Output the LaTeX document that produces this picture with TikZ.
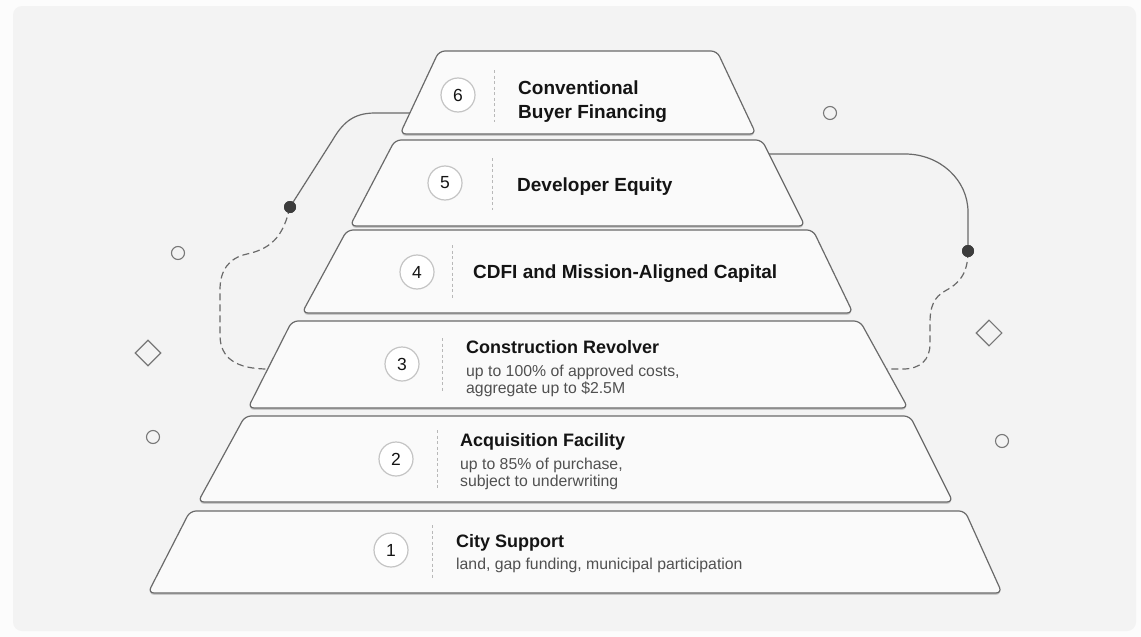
\documentclass[tikz,border=0pt]{standalone}
\usepackage{fontspec}
\setmainfont{Liberation Sans}
\usetikzlibrary{shapes.geometric}

\definecolor{outerbg}{HTML}{FCFCFC}
\definecolor{panelbg}{HTML}{F3F3F3}
\definecolor{layerfill}{HTML}{FAFAFA}
\definecolor{edge}{HTML}{6A6A6A}
\definecolor{shadowc}{HTML}{C8C8C8}
\definecolor{badge}{HTML}{C4C4C4}
\definecolor{sep}{HTML}{B8B8B8}
\definecolor{titlec}{HTML}{141414}
\definecolor{subc}{HTML}{505050}
\definecolor{dotc}{HTML}{3C3C3C}
\definecolor{ornc}{HTML}{777777}

\tikzset{
  layerbox/.style={draw=edge, line width=1.2pt, fill=layerfill, rounded corners=6pt, line join=round},
  layershadow/.style={fill=shadowc, rounded corners=6pt},
  badgecirc/.style={circle, draw=badge, line width=1.2pt, fill=white, minimum size=34pt,
    inner sep=0pt, font=\fontsize{17.5}{17.5}\selectfont, text=titlec},
  sepline/.style={draw=sep, line width=0.9pt, dash pattern=on 3pt off 2.5pt},
  bigtitle/.style={anchor=base west, inner sep=0pt, font=\fontsize{19}{19}\selectfont\bfseries, text=titlec},
  midtitle/.style={anchor=base west, inner sep=0pt, font=\fontsize{18}{18}\selectfont\bfseries, text=titlec},
  subtext/.style={anchor=base west, inner sep=0pt, font=\fontsize{15.8}{15.8}\selectfont, text=subc},
  link/.style={draw=edge, line width=1.2pt},
  dashedlink/.style={link, dash pattern=on 7pt off 4pt},
  joint/.style={circle, fill=dotc, minimum size=12pt, inner sep=0pt},
  ring/.style={circle, draw=ornc, line width=1.1pt, minimum size=13pt, inner sep=0pt},
  gem/.style={diamond, draw=ornc, line width=1.1pt, minimum size=26pt, inner sep=0pt},
}

% one tier: top-left x, top-right x, bottom-right x, bottom-left x, top y, bottom y
\newcommand{\stagebox}[6]{%
  \fill[layershadow] (#1,#5+1.8) -- (#2,#5+1.8) -- (#3,#6+1.8) -- (#4,#6+1.8) -- cycle;
  \draw[layerbox] (#1,#5) -- (#2,#5) -- (#3,#6) -- (#4,#6) -- cycle;}

\begin{document}
\begin{tikzpicture}[x=1pt, y=-1pt]
  \useasboundingbox (0,0) rectangle (1141,637);
  \fill[outerbg] (0,0) rectangle (1141,637);
  \fill[panelbg, rounded corners=9pt] (13,6) rectangle (1136,631);

  % scattered ornaments
  \node[ring] (r1) at (830,113) {};
  \node[ring] (r2) at (178,253) {};
  \node[ring] (r3) at (153,437) {};
  \node[ring] (r4) at (1002,441) {};
  \node[gem] (g1) at (148,353) {};
  \node[gem] (g2) at (989,333) {};

  % connector end points on the tier edges
  \coordinate (l6w) at (410,113);
  \coordinate (l3w) at (268,369);
  \coordinate (l5e) at (769,154);
  \coordinate (l3e) at (887,369);
  \node[joint] (jl) at (290,207) {};
  \node[joint] (jr) at (968,251) {};

  % left loop
  \draw[link] (l6w) -- (375,113) .. controls (352,113) and (342,124) .. (332,141) -- (jl.center);
  \draw[dashedlink] (jl.center) .. controls (284,232) and (275,248) .. (247,254)
    .. controls (229,258) and (220,270) .. (220,290) -- (220,335)
    .. controls (220,358) and (236,369) .. (l3w);
  % right loop
  \draw[link] (l5e) -- (905,154) .. controls (940,154) and (968,180) .. (968,212) -- (jr.center);
  \draw[dashedlink] (jr.center) .. controls (968,275) and (958,284) .. (945,291)
    .. controls (934,297) and (930,307) .. (930,322) -- (930,344)
    .. controls (930,360) and (920,369) .. (903,369) -- (l3e);

  % tiers, top to bottom
  \stagebox{439}{717}{756}{400}{51}{134}
  \stagebox{395}{762}{805}{350}{140}{226}
  \stagebox{347}{813}{853}{302}{230}{313}
  \stagebox{292}{860}{908}{248}{321}{408}
  \stagebox{245}{910}{953}{198}{416}{502}
  \stagebox{190}{965}{1002}{148}{511}{593}

  \node[joint] at (jl) {};
  \node[joint] at (jr) {};

  % tier 6
  \node[badgecirc] (b6) at (458,95) {6};
  \draw[sepline] (494,70) -- (494,122);
  \node[bigtitle] (t6a) at (518,94) {Conventional};
  \node[bigtitle] (t6b) at (518,118) {Buyer Financing};

  % tier 5
  \node[badgecirc] (b5) at (445,183) {5};
  \draw[sepline] (492,158) -- (492,210);
  \node[bigtitle] (t5) at (517,191) {Developer Equity};

  % tier 4
  \node[badgecirc] (b4) at (417,272) {4};
  \draw[sepline] (452,245) -- (452,298);
  \node[bigtitle] (t4) at (473,278.5) {CDFI and Mission-Aligned Capital};

  % tier 3
  \node[badgecirc] (b3) at (402,364) {3};
  \draw[sepline] (442,338) -- (442,392);
  \node[midtitle] (t3) at (466,353) {Construction Revolver};
  \node[subtext] (s3a) at (466,376) {up to 100\% of approved costs,};
  \node[subtext] (s3b) at (466,393) {aggregate up to \$2.5M};

  % tier 2
  \node[badgecirc] (b2) at (396,459) {2};
  \draw[sepline] (437,430) -- (437,488);
  \node[midtitle] (t2) at (460,446) {Acquisition Facility};
  \node[subtext] (s2a) at (460,469) {up to 85\% of purchase,};
  \node[subtext] (s2b) at (460,486) {subject to underwriting};

  % tier 1
  \node[badgecirc] (b1) at (391,550) {1};
  \draw[sepline] (432,525) -- (432,578);
  \node[midtitle] (t1) at (456,547) {City Support};
  \node[subtext] (s1) at (456,569) {land, gap funding, municipal participation};
\end{tikzpicture}
\end{document}
